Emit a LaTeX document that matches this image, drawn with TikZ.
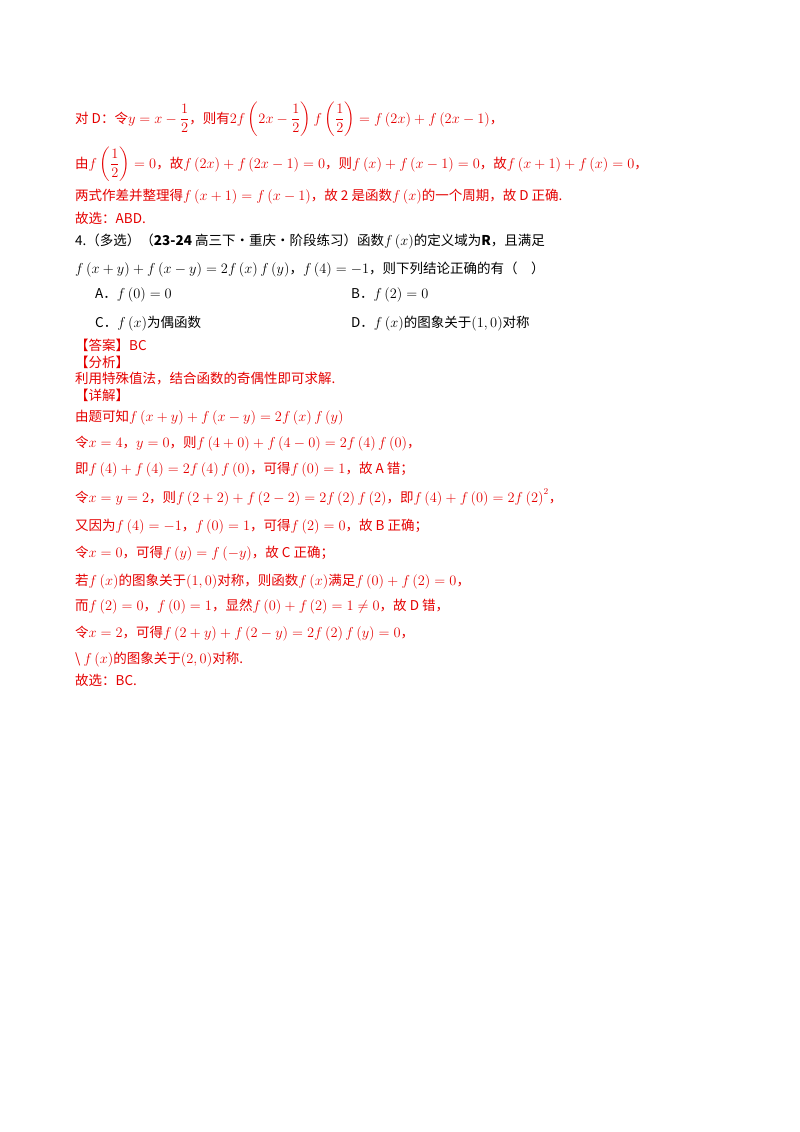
\documentclass[tikz,border=0pt]{standalone}
\usepackage{amsmath}
\usepackage{fontspec}
\setmainfont{Noto Sans CJK SC}
\begin{document}
\begin{tikzpicture}[x=1pt,y=-1pt,
  ln/.style={anchor=base west,inner sep=0pt,font=\fontsize{13.5}{16}\selectfont},
  rd/.style={ln,text=red!90!black},
  bk/.style={ln,text=black}]
\useasboundingbox[fill=white] (0,0) rectangle (800,1132);
\node[rd] (l1) at (75,123) {对 D：令$y=x-\dfrac12$，则有$2f\left(2x-\dfrac12\right)f\left(\dfrac12\right)=f\left(2x\right)+f\left(2x-1\right)$，};
\node[rd] (l2) at (75,168) {由$f\left(\dfrac12\right)=0$，故$f\left(2x\right)+f\left(2x-1\right)=0$，则$f\left(x\right)+f\left(x-1\right)=0$，故$f\left(x+1\right)+f\left(x\right)=0$，};
\node[rd] (l3) at (75,200) {两式作差并整理得$f\left(x+1\right)=f\left(x-1\right)$，故 2 是函数$f\left(x\right)$的一个周期，故 D 正确.};
\node[rd] (l4) at (75,223) {故选：ABD.};
\node[bk] (l5) at (75,245) {4.（多选）（\textbf{23-24} 高三下·重庆·阶段练习）函数$f\left(x\right)$的定义域为\textbf{R}，且满足};
\node[bk] (l6) at (75,273) {$f\left(x+y\right)+f\left(x-y\right)=2f\left(x\right)f\left(y\right)$，$f\left(4\right)=-1$，则下列结论正确的有（\quad ）};
\node[bk] (oa) at (95,298) {A．$f\left(0\right)=0$};
\node[bk] (ob) at (351,298) {B．$f\left(2\right)=0$};
\node[bk] (oc) at (95,327) {C．$f\left(x\right)$为偶函数};
\node[bk] (od) at (351,327) {D．$f\left(x\right)$的图象关于$\left(1,0\right)$对称};
\node[rd] (a1) at (75,350) {【答案】BC};
\node[rd] (a2) at (75,367) {【分析】};
\node[rd] (a3) at (75,383) {利用特殊值法，结合函数的奇偶性即可求解.};
\node[rd] (a4) at (75,400) {【详解】};
\node[rd] (b1) at (75,421) {由题可知$f\left(x+y\right)+f\left(x-y\right)=2f\left(x\right)f\left(y\right)$};
\node[rd] (b2) at (75,447) {令$x=4$，$y=0$，则$f\left(4+0\right)+f\left(4-0\right)=2f\left(4\right)f\left(0\right)$，};
\node[rd] (b3) at (75,473) {即$f\left(4\right)+f\left(4\right)=2f\left(4\right)f\left(0\right)$，可得$f\left(0\right)=1$，故 A 错；};
\node[rd] (b4) at (75,502) {令$x=y=2$，则$f\left(2+2\right)+f\left(2-2\right)=2f\left(2\right)f\left(2\right)$，即$f\left(4\right)+f\left(0\right)=2f\left(2\right)^2$，};
\node[rd] (b5) at (75,530) {又因为$f\left(4\right)=-1$，$f\left(0\right)=1$，可得$f\left(2\right)=0$，故 B 正确；};
\node[rd] (b6) at (75,557) {令$x=0$，可得$f\left(y\right)=f\left(-y\right)$，故 C 正确；};
\node[rd] (b7) at (75,585) {若$f\left(x\right)$的图象关于$\left(1,0\right)$对称，则函数$f\left(x\right)$满足$f\left(0\right)+f\left(2\right)=0$，};
\node[rd] (b8) at (75,610) {而$f\left(2\right)=0$，$f\left(0\right)=1$，显然$f\left(0\right)+f\left(2\right)=1\neq0$，故 D 错，};
\node[rd] (b9) at (75,637) {令$x=2$，可得$f\left(2+y\right)+f\left(2-y\right)=2f\left(2\right)f\left(y\right)=0$，};
\node[rd] (b10) at (75,663) {\textbackslash\ $f\left(x\right)$的图象关于$\left(2,0\right)$对称.};
\node[rd] (b11) at (75,685) {故选：BC.};
\end{tikzpicture}
\end{document}
